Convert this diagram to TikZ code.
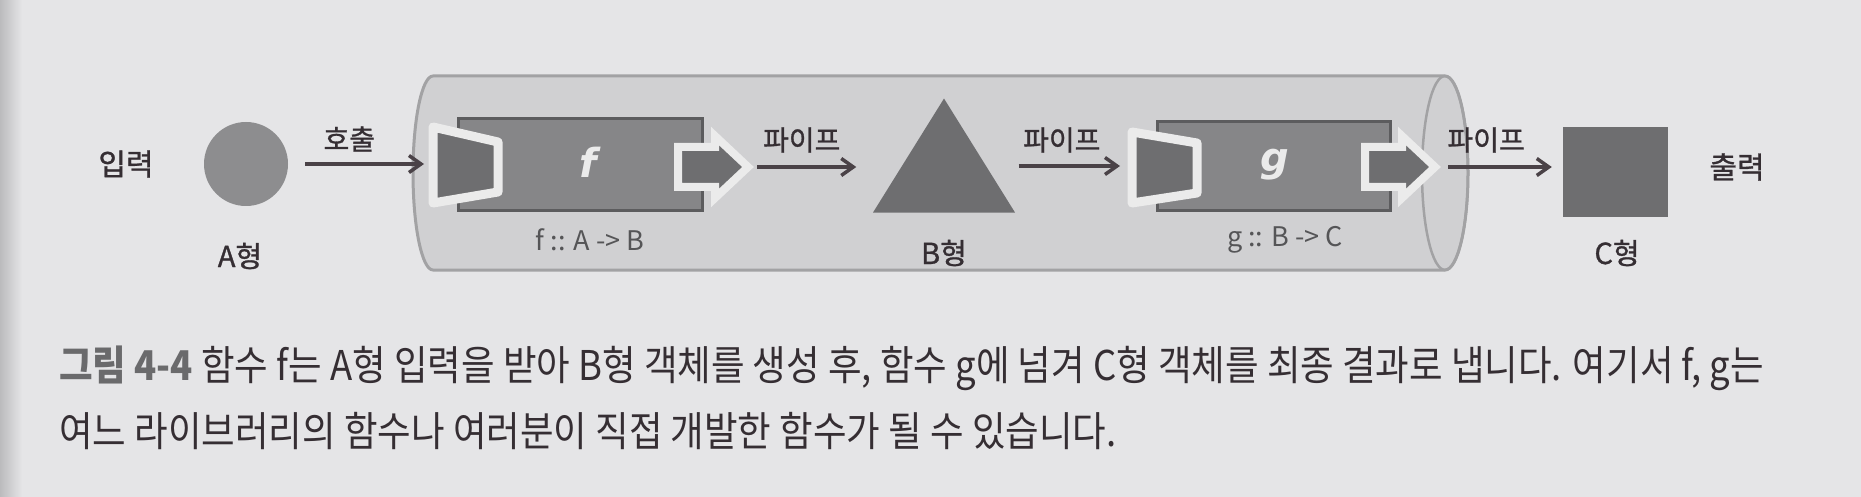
\documentclass[tikz,border=0pt]{standalone}
\usepackage{fontspec}
\setmainfont{Noto Sans CJK KR}
\newfontfamily\capfont[FakeStretch=0.89]{Noto Sans CJK KR}
\newfontfamily\lblfont[FakeBold=1.0]{Noto Sans CJK KR}
\newfontfamily\fnfont{DejaVu Sans}
\usetikzlibrary{arrows.meta,shapes.geometric}

\definecolor{paper}{HTML}{E5E5E7}
\definecolor{gutter}{HTML}{BBBBBD}
\definecolor{tubefill}{HTML}{D0D0D2}
\definecolor{tubeline}{HTML}{A2A2A4}
\definecolor{rim}{HTML}{EBEBEB}
\definecolor{shade}{HTML}{6E6E70}
\definecolor{boxfill}{HTML}{868688}
\definecolor{boxedge}{HTML}{5C5C5E}
\definecolor{dotgray}{HTML}{8D8D8F}
\definecolor{arrowgray}{HTML}{4A4247}
\definecolor{ink}{HTML}{352E33}
\definecolor{capgray}{HTML}{6A6A6C}
\definecolor{siggray}{HTML}{555557}

\begin{document}
\begin{tikzpicture}[x=1pt, y=-1pt, >={Straight Barb[length=12pt, width=17pt]},
    pipe/.style={->, line width=3.5pt, draw=arrowgray},
    lbl/.style={text=ink, inner sep=0pt, font=\lblfont\fontsize{28}{28}\selectfont},
    big/.style={text=ink, inner sep=0pt, font=\lblfont\fontsize{30}{30}\selectfont},
    sig/.style={text=siggray, inner sep=0pt, font=\fontsize{27}{27}\selectfont},
    fname/.style={text=rim, inner sep=0pt, font=\fnfont\bfseries\itshape\fontsize{40}{40}\selectfont},
    funnel/.style={draw=rim, fill=shade, line width=9pt, line join=round},
    outarrow/.style={draw=rim, fill=shade, line width=8pt, line join=miter},
    fbox/.style={fill=boxfill, draw=boxedge, line width=3pt}]

    \fill[paper] (0,0) rectangle (1861,497);
    \shade[left color=gutter, right color=paper] (0,0) rectangle (22,497);

    % the pipe
    \filldraw[fill=tubefill, draw=tubeline, line width=3pt] (433,76) -- (1445,76)
        arc[start angle=-90, end angle=90, x radius=23, y radius=97] -- (433,270)
        arc[start angle=90, end angle=270, x radius=20, y radius=97] -- cycle;
    \draw[tubeline, line width=2.5pt] (1445,173) ellipse[x radius=23, y radius=97];

    % input A
    \node[big] (in) at (126,164) {입력};
    \node[circle, fill=dotgray, minimum size=84pt, inner sep=0pt] (a) at (246,164) {};
    \node[big, font=\lblfont\fontsize{29}{29}\selectfont] (a-type) at (240,256) {A형};

    % function f
    \filldraw[fbox] (458,119) rectangle (702,211);
    \filldraw[funnel] (433,127) -- (498,142) -- (498,192) -- (433,203) -- cycle;
    \filldraw[outarrow] (678,147) -- (715,147) -- (715,136) -- (748,167) -- (715,198) -- (715,187) -- (678,187) -- cycle;
    \coordinate (f-in) at (424,164);
    \coordinate (f-out) at (748,167);
    \node[fname] (f) at (588,162) {f};
    \node[sig] (f-sig) at (590,240) {f :: A -> B};

    % value B
    \node[isosceles triangle, isosceles triangle stretches, shape border rotate=90,
        minimum width=142pt, minimum height=114pt, inner sep=0pt, fill=shade, anchor=apex] (b) at (944,98) {};
    \node[big, font=\lblfont\fontsize{29}{29}\selectfont] (b-type) at (944,253) {B형};

    % function g
    \filldraw[fbox] (1157,122) rectangle (1390,211);
    \filldraw[funnel] (1132,132) -- (1197,143) -- (1197,193) -- (1132,203) -- cycle;
    \filldraw[outarrow] (1365,147) -- (1402,147) -- (1402,136) -- (1435,167) -- (1402,198) -- (1402,187) -- (1365,187) -- cycle;
    \coordinate (g-in) at (1120,166);
    \coordinate (g-out) at (1435,167);
    \node[fname] (g) at (1275,165) {g};
    \node[sig] (g-sig) at (1285,240) {g :: B -> C};

    % output C
    \node[fill=shade, minimum width=105pt, minimum height=90pt, inner sep=0pt] (c) at (1615.5,172) {};
    \node[big, font=\lblfont\fontsize{29}{29}\selectfont] (c-type) at (1617,253) {C형};
    \node[big] (out) at (1737,167) {출력};

    % connectors
    \draw[pipe, shorten <=17pt] (a.east) -- (f-in) node[lbl, pos=.45, yshift=25pt] (call) {호출};
    \draw[pipe, shorten <=9pt, shorten >=41pt] (f-out) -- (f-out -| b.west) node[lbl, pos=.36, yshift=27pt] (pipe-1) {파이프};
    \draw[pipe, shorten <=28pt] (g-in -| b.east) -- (g-in) node[lbl, pos=.55, yshift=26pt] (pipe-2) {파이프};
    \draw[pipe, shorten <=13pt, shorten >=11pt] (g-out) -- (g-out -| c.west) node[lbl, pos=.40, yshift=27pt] (pipe-3) {파이프};

    % caption
    \node[anchor=base west, inner sep=0pt, text=ink, font=\capfont\fontsize{41}{41}\selectfont] (cap-1) at (59,380)
        {{\bfseries\color{capgray}그림 4-4} 함수 f는 A형 입력을 받아 B형 객체를 생성 후, 함수 g에 넘겨 C형 객체를 최종 결과로 냅니다. 여기서 f, g는};
    \node[anchor=base west, inner sep=0pt, text=ink, font=\capfont\fontsize{41}{41}\selectfont] (cap-2) at (59,446)
        {여느 라이브러리의 함수나 여러분이 직접 개발한 함수가 될 수 있습니다.};
\end{tikzpicture}
\end{document}
